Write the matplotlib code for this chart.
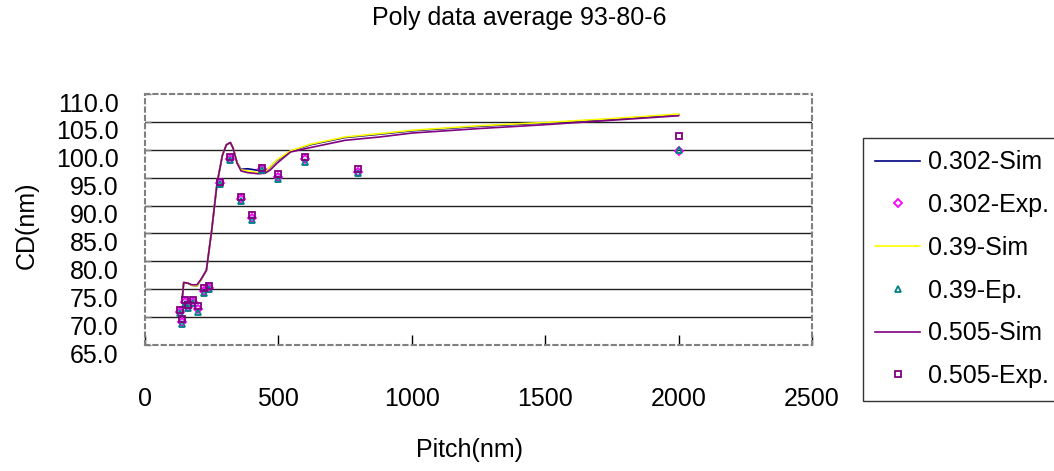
import numpy as np
import matplotlib
matplotlib.use("Agg")
import matplotlib.pyplot as plt
from matplotlib.lines import Line2D
from matplotlib.transforms import ScaledTranslation

plt.rcParams["font.family"] = ["Liberation Sans", "DejaVu Sans"]

# measured pitches (nm) and CD (nm)
pitch_exp = [130, 140, 150, 160, 180, 200, 220, 240, 280, 320, 360, 400,
             440, 500, 600, 800, 2000]
cd_302_exp = [71.0, 69.2, 72.7, 71.9, 72.8, 71.5, 74.7, 75.3, 94.0, 98.4,
              91.2, 87.8, 96.5, 95.2, 98.3, 96.1, 99.8]
cd_39_exp = [70.8, 68.8, 72.4, 71.6, 72.5, 71.0, 74.3, 75.0, 93.8, 98.1,
             90.9, 87.4, 96.3, 94.8, 97.9, 95.8, 100.0]
cd_505_exp = [71.3, 69.7, 73.1, 72.2, 73.1, 72.0, 75.2, 75.6, 94.3, 98.7,
              91.5, 88.3, 96.7, 95.6, 98.7, 96.5, 102.5]

# simulated curves
pitch_sim = [140, 145, 160, 175, 195, 210, 230, 250, 270, 290, 305, 320,
             330, 345, 360, 385, 425, 450, 470, 495, 545, 620, 750, 880,
             1000, 1250, 1500, 1750, 2000]
cd_302_sim = [73.6, 76.2, 76.1, 75.7, 75.6, 76.7, 78.4, 85.6, 94.0, 99.0,
              100.9, 101.3, 100.3, 97.7, 96.5, 96.6, 96.3, 96.0, 96.9,
              98.1, 99.7, 100.9, 102.2, 102.8, 103.4, 104.2, 104.8, 105.5,
              106.3]
cd_39_sim = [73.6, 76.2, 76.1, 75.7, 75.6, 76.7, 78.4, 85.6, 94.0, 99.0,
             100.9, 101.3, 100.3, 97.7, 96.4, 96.2, 95.9, 96.0, 97.0, 98.2,
             99.8, 101.0, 102.3, 102.9, 103.5, 104.3, 104.9, 105.6, 106.4]
cd_505_sim = [73.6, 76.2, 76.1, 75.8, 75.8, 76.8, 78.4, 85.6, 94.0, 99.0,
              100.9, 101.3, 100.3, 97.6, 96.2, 95.9, 95.7, 95.8, 96.4, 97.6,
              99.6, 100.4, 101.7, 102.3, 103.0, 103.8, 104.5, 105.3, 106.1]

xticks = [0, 500, 1000, 1500, 2000, 2500]
yticks = np.arange(65, 110.1, 5)

fig = plt.figure(figsize=(10.54, 4.71), dpi=100)
ax = fig.add_axes([0.1376, 0.2675, 0.6328, 0.5329])

for v in yticks[1:-1]:
    ax.axhline(v, color="#202020", lw=1.0, zorder=1)

ax.plot(pitch_sim, cd_302_sim, color="#000080", lw=1.2, zorder=2)
ax.plot(pitch_exp, cd_302_exp, ls="none", marker="D", ms=4, mfc="none",
        mec="#FF00FF", mew=1.3, zorder=3)
ax.plot(pitch_sim, cd_39_sim, color="#FFFF00", lw=1.2, zorder=2)
ax.plot(pitch_exp, cd_39_exp, ls="none", marker="^", ms=5, mfc="none",
        mec="#008080", mew=1.3, zorder=3)
ax.plot(pitch_sim, cd_505_sim, color="#800080", lw=1.2, zorder=2)
ax.plot(pitch_exp, cd_505_exp, ls="none", marker="s", ms=5, mfc="none",
        mec="#800080", mew=1.3, zorder=3)

ax.set_xlim(0, 2500)
ax.set_ylim(65, 110)
ax.set_xticks(xticks)
ax.set_yticks(yticks)
ax.set_yticklabels([f"{v:.1f}" for v in yticks])
ax.tick_params(axis="x", direction="in", length=7, width=1, color="black",
               labelsize=18, pad=30)
ax.tick_params(axis="y", direction="in", length=4, width=1, color="#808080",
               labelsize=18, pad=19)
offset = ScaledTranslation(0, -0.08, fig.dpi_scale_trans)
for label in ax.yaxis.get_majorticklabels():
    label.set_transform(label.get_transform() + offset)

for sp in ax.spines.values():
    sp.set_color("#808080")
    sp.set_linewidth(1.5)
    sp.set_linestyle((0, (2, 2)))

ax.set_ylabel("CD(nm)", fontsize=18)
ax.yaxis.set_label_coords(-0.16, 0.478)
ax.set_xlabel("Pitch(nm)", fontsize=18)
ax.xaxis.set_label_coords(0.487, -0.37)
fig.text(0.4924, 1 - 18 / 471, "Poly data average 93-80-6", fontsize=18,
         ha="center", va="center")

handles = [
    Line2D([], [], color="#000080", lw=1.2),
    Line2D([], [], ls="none", marker="D", ms=4, mfc="none", mec="#FF00FF",
           mew=1.3),
    Line2D([], [], color="#FFFF00", lw=1.2),
    Line2D([], [], ls="none", marker="^", ms=5, mfc="none", mec="#008080",
           mew=1.3),
    Line2D([], [], color="#800080", lw=1.2),
    Line2D([], [], ls="none", marker="s", ms=5, mfc="none", mec="#800080",
           mew=1.3),
]
labels = ["0.302-Sim", "0.302-Exp.", "0.39-Sim", "0.39-Ep.", "0.505-Sim",
          "0.505-Exp."]
leg = fig.legend(handles, labels, loc="upper left",
                 bbox_to_anchor=(863 / 1054, 1 - 138 / 471), fontsize=18,
                 frameon=True, fancybox=False, edgecolor="black",
                 borderpad=0.5, labelspacing=0.75, handlelength=1.8,
                 handletextpad=0.3, numpoints=1, borderaxespad=0)
leg.get_frame().set_linewidth(1.0)

fig.savefig("out.png", dpi=100)
